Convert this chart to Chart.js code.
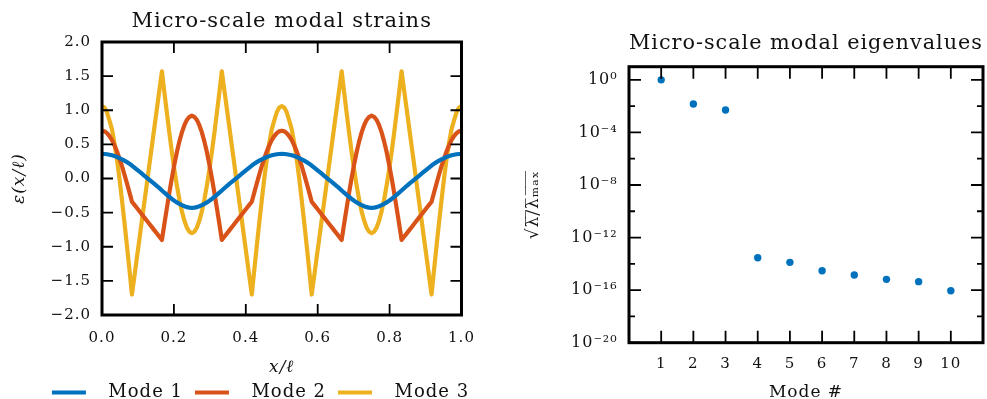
<!DOCTYPE html>
<html>
<head>
<meta charset="utf-8">
<script src="https://cdn.jsdelivr.net/npm/chart.js@4"></script>
<style>
html,body{margin:0;padding:0;background:#fff;}
#wrap{position:relative;width:987px;height:399px;overflow:hidden;background:#fff;}
#c1{position:absolute;left:0;top:0;}
#c2{position:absolute;left:500px;top:0;}
</style>
</head>
<body>
<div id="wrap">
<canvas id="c1" width="521" height="399"></canvas>
<canvas id="c2" width="487" height="399"></canvas>
</div>
<script>
// ---------- data: left panel (modal strains), x/ℓ positions ----------
const xPos = [0,.0069,.0139,.0208,.0278,.0347,.0417,.0486,.0556,.0625,.0694,.0764,.0833,.0903,.0972,.1042,.1111,.1181,.125,.1319,.1389,.1458,.1528,.1597,.1667,.1736,.1806,.1875,.1944,.2014,.2083,.2153,.2222,.2292,.2361,.2431,.25,
  .2569,.2639,.2708,.2778,.2847,.2917,.2986,.3056,.3125,.3194,.3264,.3333,.3403,.3472,.3542,.3611,.3681,.375,.3819,.3889,.3958,.4028,.4097,.4167,.4236,.4306,.4375,.4444,.4514,.4583,.4653,.4722,.4792,.4861,.4931,.5,
  .5069,.5139,.5208,.5278,.5347,.5417,.5486,.5556,.5625,.5694,.5764,.5833,.5903,.5972,.6042,.6111,.6181,.625,.6319,.6389,.6458,.6528,.6597,.6667,.6736,.6806,.6875,.6944,.7014,.7083,.7153,.7222,.7292,.7361,.7431,.75,
  .7569,.7639,.7708,.7778,.7847,.7917,.7986,.8056,.8125,.8194,.8264,.8333,.8403,.8472,.8542,.8611,.8681,.875,.8819,.8889,.8958,.9028,.9097,.9167,.9236,.9306,.9375,.9444,.9514,.9583,.9653,.9722,.9792,.9861,.9931,1];

const mode1 = [0.36,0.359,0.355,0.348,0.34,0.328,0.315,0.298,0.28,0.261,0.24,0.216,0.19,0.16,0.13,0.10,0.07,0.04,0.01,-0.02,-0.05,-0.08,-0.11,-0.142,-0.175,-0.208,-0.24,-0.27,-0.30,-0.326,-0.35,-0.371,-0.39,-0.406,-0.42,-0.427,-0.43,
  -0.427,-0.42,-0.406,-0.39,-0.371,-0.35,-0.326,-0.30,-0.27,-0.24,-0.208,-0.175,-0.142,-0.11,-0.08,-0.05,-0.02,0.01,0.04,0.07,0.10,0.13,0.16,0.19,0.216,0.24,0.261,0.28,0.298,0.315,0.328,0.34,0.348,0.355,0.359,0.36,
  0.359,0.355,0.348,0.34,0.328,0.315,0.298,0.28,0.261,0.24,0.216,0.19,0.16,0.13,0.10,0.07,0.04,0.01,-0.02,-0.05,-0.08,-0.11,-0.142,-0.175,-0.208,-0.24,-0.27,-0.30,-0.326,-0.35,-0.371,-0.39,-0.406,-0.42,-0.427,-0.43,
  -0.427,-0.42,-0.406,-0.39,-0.371,-0.35,-0.326,-0.30,-0.27,-0.24,-0.208,-0.175,-0.142,-0.11,-0.08,-0.05,-0.02,0.01,0.04,0.07,0.10,0.13,0.16,0.19,0.216,0.24,0.261,0.28,0.298,0.315,0.328,0.34,0.348,0.355,0.359,0.36];

const mode2 = [0.70,0.691,0.665,0.621,0.561,0.485,0.395,0.293,0.18,0.058,-0.071,-0.204,-0.34,-0.387,-0.433,-0.48,-0.527,-0.573,-0.62,-0.667,-0.713,-0.76,-0.807,-0.853,-0.90,-0.662,-0.429,-0.203,0.01,0.208,0.387,0.544,0.676,0.781,0.858,0.904,0.92,
  0.904,0.858,0.781,0.676,0.544,0.387,0.208,0.01,-0.203,-0.429,-0.662,-0.90,-0.853,-0.807,-0.76,-0.713,-0.667,-0.62,-0.573,-0.527,-0.48,-0.433,-0.387,-0.34,-0.204,-0.071,0.058,0.18,0.293,0.395,0.485,0.561,0.621,0.665,0.691,0.70,
  0.691,0.665,0.621,0.561,0.485,0.395,0.293,0.18,0.058,-0.071,-0.204,-0.34,-0.387,-0.433,-0.48,-0.527,-0.573,-0.62,-0.667,-0.713,-0.76,-0.807,-0.853,-0.90,-0.662,-0.429,-0.203,0.01,0.208,0.387,0.544,0.676,0.781,0.858,0.904,0.92,
  0.904,0.858,0.781,0.676,0.544,0.387,0.208,0.01,-0.203,-0.429,-0.662,-0.90,-0.853,-0.807,-0.76,-0.713,-0.667,-0.62,-0.573,-0.527,-0.48,-0.433,-0.387,-0.34,-0.204,-0.071,0.058,0.18,0.293,0.395,0.485,0.561,0.621,0.665,0.691,0.70];

const mode3 = [1.06,1.04,0.97,0.85,0.72,0.52,0.28,0.0,-0.32,-0.644,-0.986,-1.34,-1.70,-1.428,-1.155,-0.883,-0.61,-0.338,-0.065,0.208,0.48,0.753,1.025,1.298,1.57,1.261,0.957,0.663,0.385,0.127,-0.106,-0.31,-0.482,-0.62,-0.719,-0.78,-0.80,
  -0.78,-0.719,-0.62,-0.482,-0.31,-0.106,0.127,0.385,0.663,0.957,1.261,1.57,1.298,1.025,0.753,0.48,0.208,-0.065,-0.338,-0.61,-0.883,-1.155,-1.428,-1.70,-1.34,-0.986,-0.644,-0.32,0.0,0.28,0.52,0.72,0.85,0.97,1.04,1.06,
  1.04,0.97,0.85,0.72,0.52,0.28,0.0,-0.32,-0.644,-0.986,-1.34,-1.70,-1.428,-1.155,-0.883,-0.61,-0.338,-0.065,0.208,0.48,0.753,1.025,1.298,1.57,1.261,0.957,0.663,0.385,0.127,-0.106,-0.31,-0.482,-0.62,-0.719,-0.78,-0.80,
  -0.78,-0.719,-0.62,-0.482,-0.31,-0.106,0.127,0.385,0.663,0.957,1.261,1.57,1.298,1.025,0.753,0.48,0.208,-0.065,-0.338,-0.61,-0.883,-1.155,-1.428,-1.70,-1.34,-0.986,-0.644,-0.32,0.0,0.28,0.52,0.72,0.85,0.97,1.04,1.06];

const seriesNames = ['Mode 1', 'Mode 2', 'Mode 3'];

// ---------- data: right panel (eigenvalues) ----------
const modeNumbers = [1, 2, 3, 4, 5, 6, 7, 8, 9, 10];
const eigRatio = [1, 1.47e-2, 5.1e-3, 2.9e-14, 1.3e-14, 3.0e-15, 1.4e-15, 6.6e-16, 4.4e-16, 8.9e-17];
const logTickExps = [0, -2, -4, -6, -8, -10, -12, -14, -16, -18, -20];

// ---------- helpers ----------
const SUP = {'0':'⁰','1':'¹','2':'²','3':'³','4':'⁴','5':'⁵','6':'⁶','7':'⁷','8':'⁸','9':'⁹','-':'⁻'};
const sup = n => String(n).split('').map(c => SUP[c]).join('');
const fmt1 = v => (Math.abs(v) < 1e-9 ? 0 : v).toFixed(1).replace('-', '−');
const INK = '#111';

Chart.defaults.font.family = "'DejaVu Serif', serif";
Chart.defaults.color = INK;

// slightly wide lettering like the reference typesetting
const spacing = {
  id: 'spacing',
  beforeLayout(chart) { chart.ctx.letterSpacing = '1px'; },
  beforeDraw(chart) { chart.ctx.letterSpacing = '1px'; }
};

// frame + inward tick marks on all four sides, positioned through the chart's scales
const frameTicks = {
  id: 'frameTicks',
  afterDatasetsDraw(chart, args, opts) {
    const {ctx, chartArea: a} = chart;
    const xs = chart.scales.x, ys = chart.scales.y;
    ctx.save();
    ctx.strokeStyle = '#000';
    ctx.lineWidth = 1.8;
    ctx.beginPath();
    xs.ticks.forEach(t => {
      const p = xs.getPixelForValue(t.value);
      const L = opts.xLen(t.value);
      ctx.moveTo(p, a.bottom); ctx.lineTo(p, a.bottom - L);
      ctx.moveTo(p, a.top); ctx.lineTo(p, a.top + L);
    });
    ys.ticks.forEach(t => {
      const p = ys.getPixelForValue(t.value);
      const L = opts.yLen(t.value);
      ctx.moveTo(a.left, p); ctx.lineTo(a.left + L, p);
      ctx.moveTo(a.right, p); ctx.lineTo(a.right - L, p);
    });
    ctx.stroke();
    ctx.lineWidth = 3;
    ctx.strokeRect(a.left, a.top, a.right - a.left, a.bottom - a.top);
    ctx.restore();
  }
};

// ---------- left chart ----------
const strainSeries = [mode1, mode2, mode3];
const lineColors = ['#0072BD', '#D95319', '#EDB120'];

new Chart(document.getElementById('c1'), {
  type: 'line',
  data: {
    datasets: seriesNames.map((name, k) => ({
      label: name,
      data: xPos.map((x, i) => ({x: x, y: strainSeries[k][i]})),
      borderColor: lineColors[k],
      backgroundColor: lineColors[k],
      borderWidth: 4.2,
      pointRadius: 0,
      tension: 0,
      fill: false,
      borderJoinStyle: 'round',
      borderCapStyle: 'round'
    }))
  },
  options: {
    responsive: false,
    animation: false,
    devicePixelRatio: 1,
    events: [],
    layout: {padding: {left: 0, right: 0, top: 0, bottom: -12.5}},
    plugins: {
      title: {
        display: true, text: 'Micro-scale modal strains', fullSize: false,
        font: {size: 21, weight: 'normal'}, color: INK, padding: {top: 8.5, bottom: 8.3}
      },
      legend: {
        position: 'bottom',
        labels: {
          boxWidth: 34, boxHeight: 4, padding: 2, color: INK,
          font: {size: 18},
          generateLabels(chart) {
            const items = Chart.defaults.plugins.legend.labels.generateLabels(chart);
            items.forEach((it, i) => {
              it.text = '  ' + it.text + (i < items.length - 1 ? '\u2002' : '');
              it.lineWidth = 0;
            });
            return items;
          }
        }
      },
      tooltip: {enabled: false},
      frameTicks: {xLen: () => 11, yLen: () => 11}
    },
    scales: {
      x: {
        type: 'linear', min: 0, max: 1,
        afterFit: s => { s.height = 66.5; },
        grid: {display: false, drawTicks: false},
        border: {display: false},
        ticks: {stepSize: 0.2, padding: 14, font: {size: 15}, color: INK, callback: v => fmt1(v)},
        title: {display: true, text: 'x/ℓ', color: INK, font: {size: 17, style: 'italic'}, padding: {top: 0, bottom: 4}}
      },
      y: {
        type: 'linear', min: -2, max: 2,
        afterFit: s => { s.width = 102; },
        grid: {display: false, drawTicks: false},
        border: {display: false},
        ticks: {stepSize: 0.5, padding: 11, font: {size: 15}, color: INK, callback: v => fmt1(v)},
        title: {display: true, text: 'ε(x/ℓ)', color: INK, font: {size: 17, style: 'italic'}, padding: {top: 9.8, bottom: 0}}
      },
      y2: {
        type: 'linear', position: 'right', display: true,
        afterFit: s => { s.width = 59.5; },
        grid: {display: false, drawTicks: false},
        border: {display: false},
        ticks: {display: false}
      }
    }
  },
  plugins: [spacing, frameTicks]
});

// ---------- right chart ----------
new Chart(document.getElementById('c2'), {
  type: 'scatter',
  data: {
    datasets: [{
      label: 'eigenvalues',
      data: modeNumbers.map((m, i) => ({x: m, y: eigRatio[i]})),
      pointRadius: 3.7,
      pointBackgroundColor: '#0072BD',
      pointBorderWidth: 0,
      showLine: false
    }]
  },
  options: {
    responsive: false,
    animation: false,
    devicePixelRatio: 1,
    events: [],
    layout: {padding: {left: 0, right: 2, top: 0, bottom: 0}},
    plugins: {
      title: {
        display: true, text: 'Micro-scale modal eigenvalues', fullSize: false,
        font: {size: 21, weight: 'normal'}, color: INK, padding: {top: 31.4, bottom: 10.1}
      },
      legend: {display: false},
      tooltip: {enabled: false},
      frameTicks: {
        xLen: () => 12,
        yLen: v => (Math.round(Math.log10(v)) % 4 === 0 ? 12 : 6)
      }
    },
    scales: {
      x: {
        type: 'linear', min: 0, max: 11,
        afterBuildTicks: s => { s.ticks = modeNumbers.map(v => ({value: v})); },
        afterFit: s => { s.height = 56.3; },
        grid: {display: false, drawTicks: false},
        border: {display: false},
        ticks: {padding: 12, font: {size: 15}, color: INK, autoSkip: false, maxRotation: 0, callback: v => String(v)},
        title: {display: true, text: 'Mode #', color: INK, font: {size: 17}, padding: {top: 0, bottom: -3.5}}
      },
      y: {
        type: 'logarithmic', min: 1e-20, max: 10,
        afterBuildTicks: s => { s.ticks = logTickExps.map(e => ({value: Math.pow(10, e)})); },
        afterFit: s => { s.width = 129; },
        grid: {display: false, drawTicks: false},
        border: {display: false},
        ticks: {
          padding: 11.3, font: {size: 16}, color: INK, autoSkip: false,
          callback: v => { const e = Math.round(Math.log10(v)); return e % 4 === 0 ? '10' + sup(e) : ''; }
        },
        title: {display: true, text: '√λ̅/̅λ̅ₘ̅ₐ̅ₓ̅', color: INK, font: {size: 17}, padding: {top: 22.9, bottom: 0}}
      }
    }
  },
  plugins: [spacing, frameTicks]
});
</script>
</body>
</html>
